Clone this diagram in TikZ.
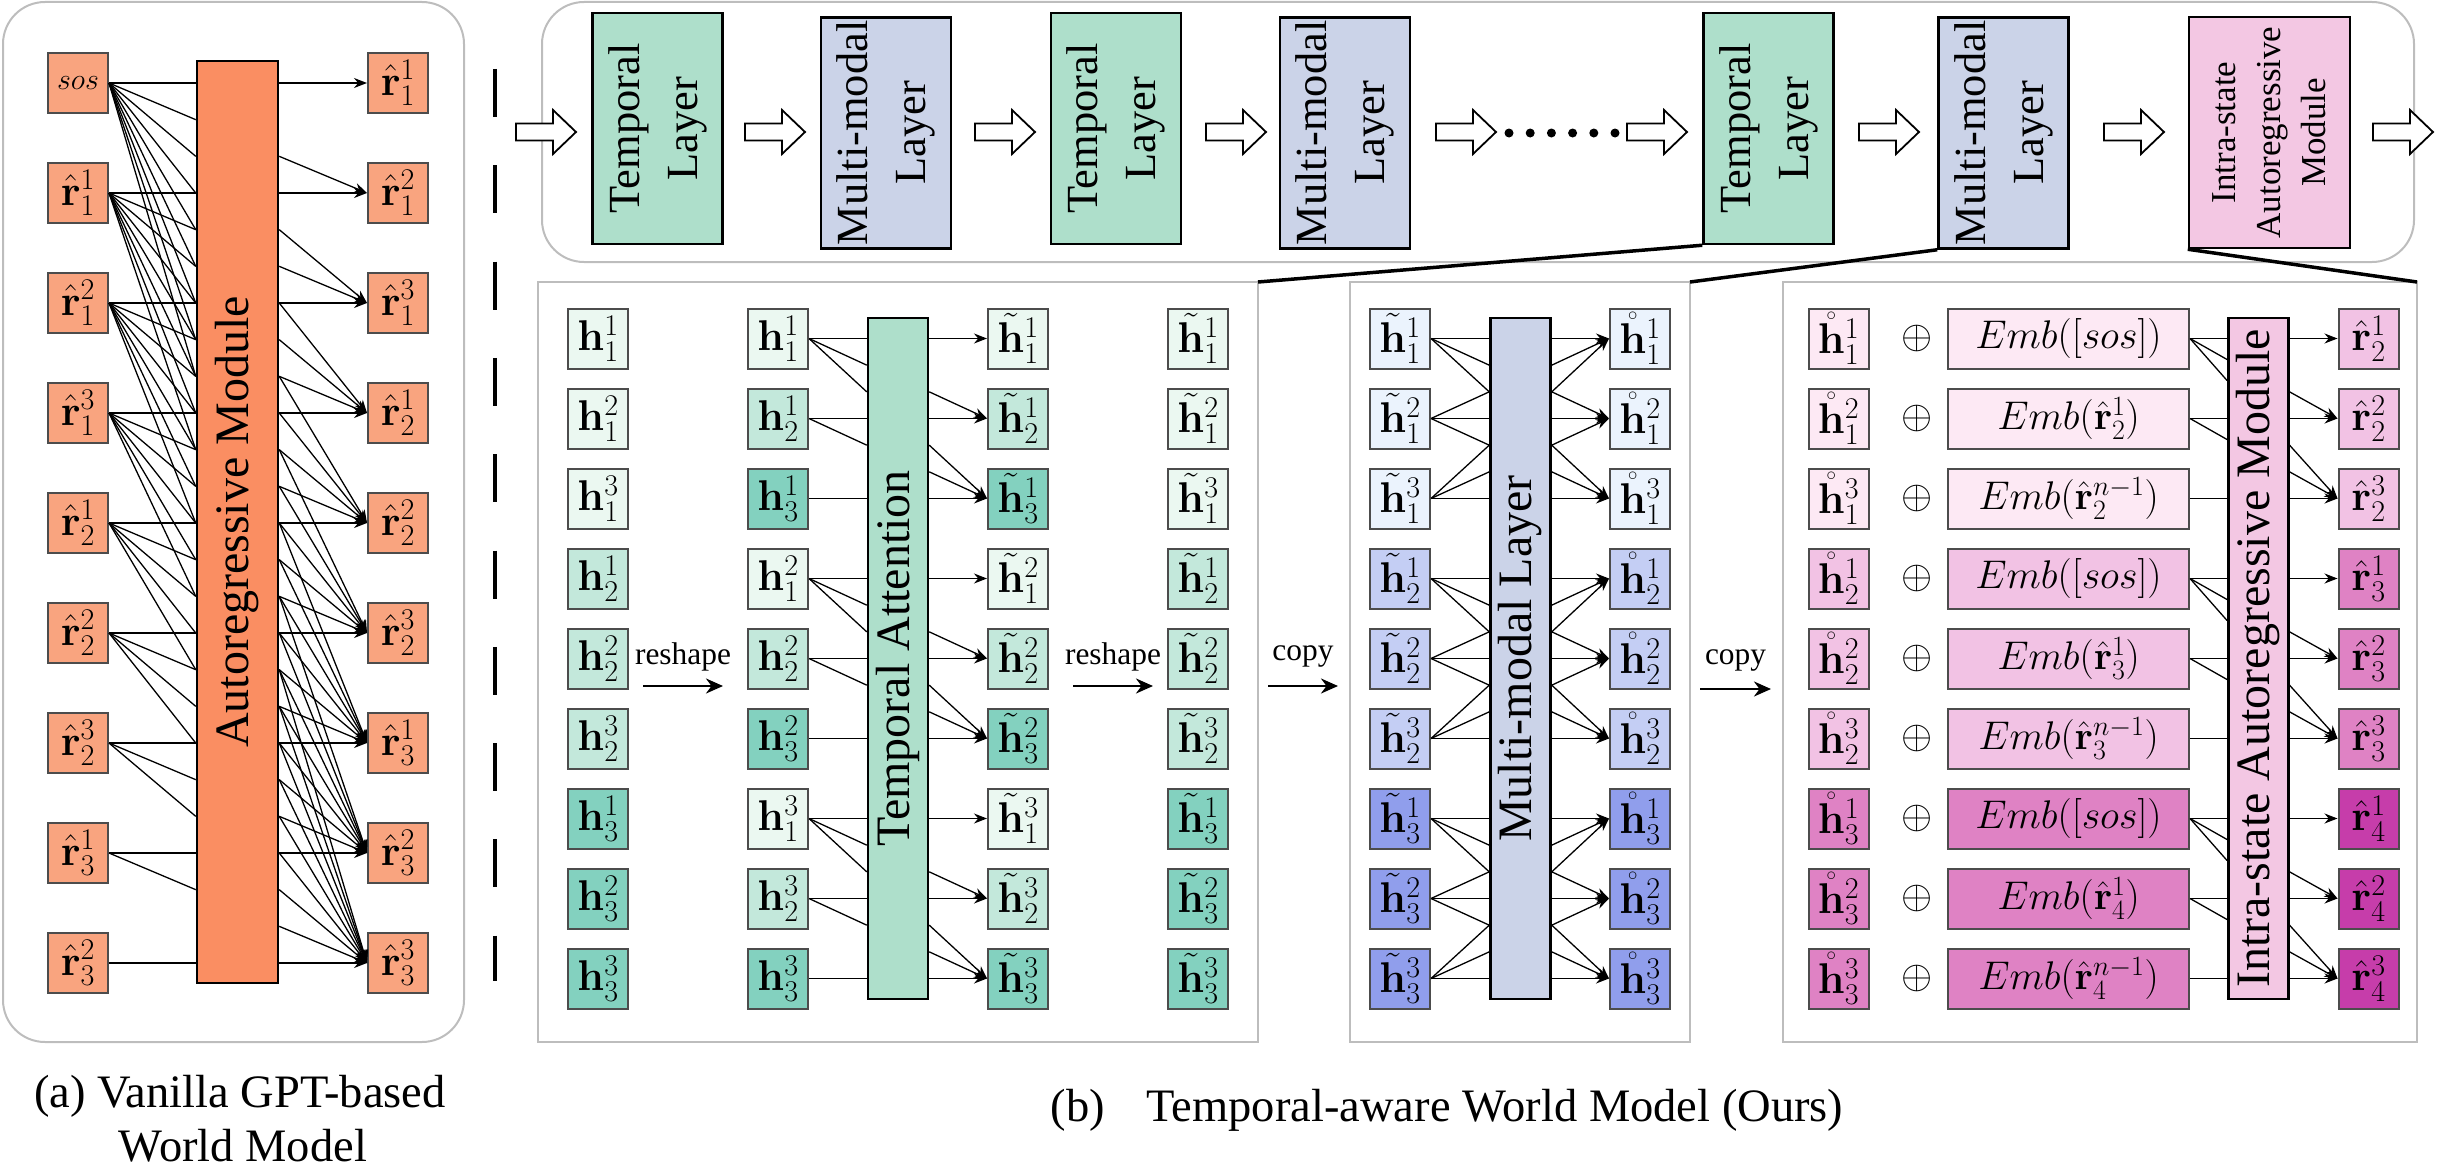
\documentclass[tikz,border=0pt]{standalone}
\usepackage{fix-cm}
\usepackage{amsmath}
\usepackage[no-math]{fontspec}
\setmainfont{Liberation Serif}
\usepackage{xcolor}
\usetikzlibrary{arrows.meta,calc,positioning}

\definecolor{panelgray}{HTML}{BDBDBD}
\definecolor{orangebox}{HTML}{F9A47F}
\definecolor{orangebar}{HTML}{FA8E62}
\definecolor{tealbar}{HTML}{AEDFCB}
\definecolor{tg1}{HTML}{EBF8F1}
\definecolor{tg2}{HTML}{C3E8DB}
\definecolor{tg3}{HTML}{83D1BF}
\definecolor{mbar}{HTML}{CBD3E8}
\definecolor{mb1}{HTML}{EBF3FD}
\definecolor{mb2}{HTML}{C4CEF4}
\definecolor{mb3}{HTML}{909EEC}
\definecolor{pbar}{HTML}{F3C7E3}
\definecolor{pk1}{HTML}{FDE9F4}
\definecolor{pk2}{HTML}{F2C2E4}
\definecolor{pk3}{HTML}{DF82C4}
\definecolor{pk4}{HTML}{C63DAA}

\tikzset{
  panel/.style={draw=panelgray, line width=2pt, inner sep=0pt, outer sep=0pt},
  tok/.style={draw=black!70, line width=2pt, minimum width=60pt, minimum height=60pt, inner sep=0pt, font=\fontsize{43}{50}\selectfont},
  embbox/.style={tok, minimum width=241pt, font=\fontsize{40}{48}\selectfont},
  bar/.style={draw=black, line width=2.5pt, inner sep=0pt, rotate=90, font=\fontsize{48}{58}\selectfont},
  layer/.style={draw=black, line width=2.5pt, inner sep=0pt, rotate=90, align=center, minimum width=231pt, minimum height=130pt, font=\fontsize{44.5}{58}\selectfont},
  link/.style={line width=1.3pt},
  linkarrow/.style={line width=1.3pt, -{Stealth[length=13pt,width=10pt]}},
  steparrow/.style={line width=2.4pt, -{Stealth[length=17pt,width=15pt]}},
  zoomline/.style={line width=3.5pt},
  oplabel/.style={font=\fontsize{31.4}{36}\selectfont, inner sep=0pt},
  captext/.style={font=\fontsize{46.5}{56}\selectfont, inner sep=0pt, anchor=base},
  hollow/.pic={\draw[line width=1.8pt, fill=white] (-30,8.5) -- (7,8.5) -- (7,22) -- (30,0) -- (7,-22) -- (7,-8.5) -- (-30,-8.5) -- cycle;}
}

\begin{document}
\begin{tikzpicture}[x=1pt,y=-1pt]
\useasboundingbox (0,0) rectangle (2437,1164);

% (a) vanilla model
\node[panel, rounded corners=42pt, minimum width=461pt, minimum height=1040pt] (apanel) at (233.5,522) {};
\node[bar, fill=orangebar, minimum width=922pt, minimum height=81pt] (abar) at (237.5,522) {Autoregressive Module};
\node[tok, fill=orangebox] (ain0) at (78,83) {\fontsize{30}{30}\selectfont$sos$};
\foreach \n in {1,...,8} {
  \pgfmathtruncatemacro\ia{mod(\n-1,3)+1}
  \pgfmathtruncatemacro\ib{div(\n-1,3)+1}
  \node[tok, fill=orangebox] (ain\n) at (78,{83+110*\n}) {$\hat{\mathbf{r}}^{\ia}_{\ib}$};
}
\foreach \n in {0,...,8} {
  \pgfmathtruncatemacro\ia{mod(\n,3)+1}
  \pgfmathtruncatemacro\ib{div(\n,3)+1}
  \node[tok, fill=orangebox] (aout\n) at (398,{83+110*\n}) {$\hat{\mathbf{r}}^{\ia}_{\ib}$};
}
\foreach \i in {0,...,8} {
  \pgfmathtruncatemacro\kmax{8-\i}
  \foreach \k in {0,...,\kmax} {
    \pgfmathsetmacro\yy{83+110*\i+36.67*\k}
    \draw[link] (ain\i.east) -- (abar.north |- 0,\yy);
  }
  \foreach \k in {0,...,\i} {
    \pgfmathsetmacro\yy{83+110*\i-36.67*\k}
    \draw[linkarrow] (abar.south |- 0,\yy) -- (aout\i.west);
  }
}
\node[captext] (capa1) at (240,1107) {(a) Vanilla GPT-based};
\node[captext] (capa2) at (243,1161) {World Model};

\draw[line width=4pt, dash pattern=on 48pt off 48.3pt] (495,69) -- (495,981);

% (b) layer stack
\node[panel, rounded corners=42pt, minimum width=1872pt, minimum height=260pt] (toppanel) at (1478,132) {};
\node[layer, fill=tealbar] (tla) at (657.5,128.5) {Temporal\\Layer};
\node[layer, fill=mbar] (mma) at (886,133) {Multi-modal\\Layer};
\node[layer, fill=tealbar] (tlb) at (1116,128.5) {Temporal\\Layer};
\node[layer, fill=mbar] (mmb) at (1345,133) {Multi-modal\\Layer};
\node[layer, fill=tealbar] (tlc) at (1768.5,128.5) {Temporal\\Layer};
\node[layer, fill=mbar] (mmc) at (2003.5,133) {Multi-modal\\Layer};
\node[layer, fill=pbar, minimum height=161pt, font=\fontsize{35}{45}\selectfont] (isc) at (2269.5,132.5) {Intra-state\\Autoregressive\\Module};
\foreach \x in {546,775,1005,1236,1466,1657,1889,2134,2403}
  \pic at (\x,132) {hollow};
\foreach \d in {0,...,5}
  \fill ({1509+21.2*\d},133) circle (4.5pt);

% zoomed panels
\node[panel, minimum width=720pt, minimum height=760pt] (tpanel) at (898,662) {};
\node[panel, minimum width=340pt, minimum height=760pt] (mpanel) at (1520,662) {};
\node[panel, minimum width=634pt, minimum height=760pt] (rpanel) at (2100,662) {};
\draw[zoomline] (tlc.north west) -- (tpanel.north east);
\draw[zoomline] (mmc.north west) -- (mpanel.north east);
\draw[zoomline] (isc.north west) -- (rpanel.north east);

% temporal attention
\node[bar, fill=tealbar, minimum width=681pt, minimum height=60pt] (tbar) at (898,658.5) {Temporal Attention};
\foreach \r in {0,...,8} {
  \pgfmathtruncatemacro\ga{div(\r,3)+1}
  \pgfmathtruncatemacro\gb{mod(\r,3)+1}
  \pgfmathtruncatemacro\kk{mod(\r,3)}
  \pgfmathtruncatemacro\mmax{2-\kk}
  \pgfmathsetmacro\yr{338.5+80*\r}
  \node[tok, fill=tg\ga] (ta\r) at (598,\yr) {$\mathbf{h}^{\gb}_{\ga}$};
  \node[tok, fill=tg\gb] (tb\r) at (778,\yr) {$\mathbf{h}^{\ga}_{\gb}$};
  \node[tok, fill=tg\gb] (tc\r) at (1018,\yr) {$\tilde{\mathbf{h}}^{\ga}_{\gb}$};
  \node[tok, fill=tg\ga] (td\r) at (1198,\yr) {$\tilde{\mathbf{h}}^{\gb}_{\ga}$};
  \foreach \m in {0,...,\mmax} {
    \pgfmathsetmacro\yy{\yr+26.67*\m}
    \draw[link] (tb\r.east) -- (tbar.north |- 0,\yy);
  }
  \foreach \m in {0,...,\kk} {
    \pgfmathsetmacro\yy{\yr-26.67*\m}
    \draw[linkarrow] (tbar.south |- 0,\yy) -- (tc\r.west);
  }
}
\draw[steparrow] ($(ta4.east)+(14,27.5)$) -- ($(tb4.west)+(-24,27.5)$) node[oplabel, midway, above=14pt] {reshape};
\draw[steparrow] ($(tc4.east)+(24,27.5)$) -- ($(td4.west)+(-14,27.5)$) node[oplabel, midway, above=14pt] {reshape};
\draw[steparrow] ($(tpanel.east)+(10,24)$) -- ($(mpanel.west)+(-12,24)$) node[oplabel, midway, above=18pt] {copy};
\draw[steparrow] ($(mpanel.east)+(10,27)$) -- ($(rpanel.west)+(-12,27)$) node[oplabel, midway, above=17pt] {copy};

% multi-modal layer
\node[bar, fill=mbar, minimum width=681pt, minimum height=60pt] (mbarn) at (1520.5,658.5) {Multi-modal Layer};
\foreach \r in {0,...,8} {
  \pgfmathtruncatemacro\ga{div(\r,3)+1}
  \pgfmathtruncatemacro\gb{mod(\r,3)+1}
  \pgfmathtruncatemacro\kk{mod(\r,3)}
  \pgfmathsetmacro\yr{338.5+80*\r}
  \node[tok, fill=mb\ga] (mi\r) at (1400,\yr) {$\tilde{\mathbf{h}}^{\gb}_{\ga}$};
  \node[tok, fill=mb\ga] (mo\r) at (1640,\yr) {$\mathring{\mathbf{h}}^{\gb}_{\ga}$};
  \foreach \m in {0,1,2} {
    \pgfmathsetmacro\yy{\yr+26.67*(\m-\kk)}
    \draw[link] (mi\r.east) -- (mbarn.north |- 0,\yy);
    \draw[linkarrow] (mbarn.south |- 0,\yy) -- (mo\r.west);
  }
}

% intra-state autoregressive module
\node[bar, fill=pbar, minimum width=681pt, minimum height=60pt] (rbar) at (2258.3,658.5) {Intra-state Autoregressive Module};
\foreach \r in {0,...,8} {
  \pgfmathtruncatemacro\ga{div(\r,3)+1}
  \pgfmathtruncatemacro\gb{mod(\r,3)+1}
  \pgfmathtruncatemacro\gc{\ga+1}
  \pgfmathtruncatemacro\kk{mod(\r,3)}
  \pgfmathtruncatemacro\mmax{2-\kk}
  \pgfmathsetmacro\yr{338.5+80*\r}
  \node[tok, fill=pk\ga] (rh\r) at (1838.5,\yr) {$\mathring{\mathbf{h}}^{\gb}_{\ga}$};
  \node[font=\fontsize{40}{48}\selectfont, inner sep=0pt] (rplus\r) at (1917,\yr) {$\oplus$};
  \node[embbox, fill=pk\ga] (remb\r) at (2068.5,\yr) {\ifcase\kk $Emb([sos])$\or $Emb(\hat{\mathbf{r}}^{1}_{\gc})$\or $Emb(\hat{\mathbf{r}}^{n-1}_{\gc})$\fi};
  \node[tok, fill=pk\gc] (rout\r) at (2368.5,\yr) {$\hat{\mathbf{r}}^{\gb}_{\gc}$};
  \foreach \m in {0,...,\mmax} {
    \pgfmathsetmacro\yy{\yr+21*\m}
    \draw[link] (remb\r.east) -- (rbar.north |- 0,\yy);
  }
  \foreach \m in {0,...,\kk} {
    \pgfmathsetmacro\yy{\yr-26.67*\m}
    \draw[linkarrow] (rbar.south |- 0,\yy) -- (rout\r.west);
  }
}

\node[captext] (capb) at (1447,1121) {(b)\hspace{0.9em}Temporal-aware World Model (Ours)};
\end{tikzpicture}
\end{document}
